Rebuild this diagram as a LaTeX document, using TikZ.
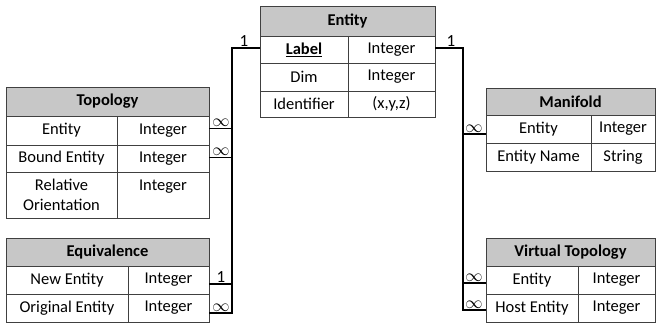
\documentclass[tikz,border=0pt]{standalone}
\usepackage{fontspec}
\setmainfont{Carlito}
\usetikzlibrary{positioning}

\begin{document}
\begin{tikzpicture}[x=1pt,y=-1pt,
  cell/.style={draw=black!75,line width=0.8pt,inner sep=0pt,outer sep=0pt,
    anchor=north west,align=center,font=\fontsize{16.5}{20}\selectfont},
  head/.style={cell,fill=black!22,font=\fontsize{16.5}{20}\selectfont\bfseries},
  conn/.style={line width=1.6pt,black},
  mult/.style={inner sep=1pt,anchor=south,font=\fontsize{17}{19}\selectfont}]
\useasboundingbox (0,0) rectangle (656,325);
%%%%%%%%%%%%%%%% Entity
\node[head,minimum width=175,minimum height=30] (ehead) at (260,6) {Entity};
\node[cell,minimum width=88,minimum height=27] (elabel) at (260,36) {\underline{\textbf{Label}}};
\node[cell,minimum width=87,minimum height=27] (elabelt) at (348,36) {Integer};
\node[cell,minimum width=88,minimum height=28] (edim) at (260,63) {Dim};
\node[cell,minimum width=87,minimum height=28] (edimt) at (348,63) {Integer};
\node[cell,minimum width=88,minimum height=26] (eid) at (260,91) {Identifier};
\node[cell,minimum width=87,minimum height=26] (eidt) at (348,91) {(x,y,z)};
%%%%%%%%%%%%%%%% Topology
\node[head,minimum width=203,minimum height=29] (thead) at (6,87) {Topology};
\node[cell,minimum width=111,minimum height=29] (tent) at (6,116) {Entity};
\node[cell,minimum width=92,minimum height=29] (tentt) at (117,116) {Integer};
\node[cell,minimum width=111,minimum height=27] (tbound) at (6,145) {Bound Entity};
\node[cell,minimum width=92,minimum height=27] (tboundt) at (117,145) {Integer};
\node[cell,minimum width=111,minimum height=46] (trel) at (6,172) {Relative\\Orientation};
\node[cell,minimum width=92,minimum height=46] (trelt) at (117,172) {Integer\\\mbox{}};
%%%%%%%%%%%%%%%% Equivalence
\node[head,minimum width=203,minimum height=28] (qhead) at (6,238) {Equivalence};
\node[cell,minimum width=122,minimum height=28] (qnew) at (6,266) {New Entity};
\node[cell,minimum width=81,minimum height=28] (qnewt) at (128,266) {Integer};
\node[cell,minimum width=122,minimum height=28] (qorig) at (6,294) {Original Entity};
\node[cell,minimum width=81,minimum height=28] (qorigt) at (128,294) {Integer};
%%%%%%%%%%%%%%%% Manifold
\node[head,minimum width=169,minimum height=27] (mhead) at (486,88) {Manifold};
\node[cell,minimum width=105,minimum height=28] (ment) at (486,115) {Entity};
\node[cell,minimum width=64,minimum height=28] (mentt) at (591,115) {Integer};
\node[cell,minimum width=105,minimum height=28] (mname) at (486,143) {Entity Name};
\node[cell,minimum width=64,minimum height=28] (mnamet) at (591,143) {String};
%%%%%%%%%%%%%%%% Virtual Topology
\node[head,minimum width=169,minimum height=28] (vhead) at (486,238) {Virtual Topology};
\node[cell,minimum width=92,minimum height=28] (vent) at (486,266) {Entity};
\node[cell,minimum width=77,minimum height=28] (ventt) at (578,266) {Integer};
\node[cell,minimum width=92,minimum height=28] (vhost) at (486,294) {Host Entity};
\node[cell,minimum width=77,minimum height=28] (vhostt) at (578,294) {Integer};
%%%%%%%%%%%%%%%% connectors, left
\coordinate (lbus) at (232,313);
\draw[conn] ([yshift=1.5pt]elabel.west) -| (lbus) -- ([yshift=-5pt]qorigt.east);
\draw[conn] ([yshift=2pt]tentt.east) -- ([yshift=2pt]tentt.east -| lbus);
\draw[conn] ([yshift=1pt]tboundt.east) -- ([yshift=1pt]tboundt.east -| lbus);
\draw[conn] ([yshift=-4pt]qnewt.east) -- ([yshift=-4pt]qnewt.east -| lbus);
\node[mult] (lone) at (244,48) {1};
\node[mult] (tinfa) at (221,128) {$\infty$};
\node[mult] (tinfb) at (221,157) {$\infty$};
\node[mult] (qone) at (221,284) {1};
\node[mult] (qinf) at (221,313) {$\infty$};
%%%%%%%%%%%%%%%% connectors, right
\coordinate (rbus) at (463,310);
\draw[conn] ([yshift=1.5pt]elabelt.east) -| (rbus) -- ([yshift=-2pt]vhost.west);
\draw[conn] ([yshift=-5pt]ment.west) -- ([yshift=-5pt]ment.west -| rbus);
\draw[conn] ([yshift=-3pt]vent.west) -- ([yshift=-3pt]vent.west -| rbus);
\node[mult] (rone) at (451,48) {1};
\node[mult] (minf) at (474,134) {$\infty$};
\node[mult] (vinfa) at (474,283) {$\infty$};
\node[mult] (vinfb) at (474,310) {$\infty$};
\end{tikzpicture}
\end{document}
